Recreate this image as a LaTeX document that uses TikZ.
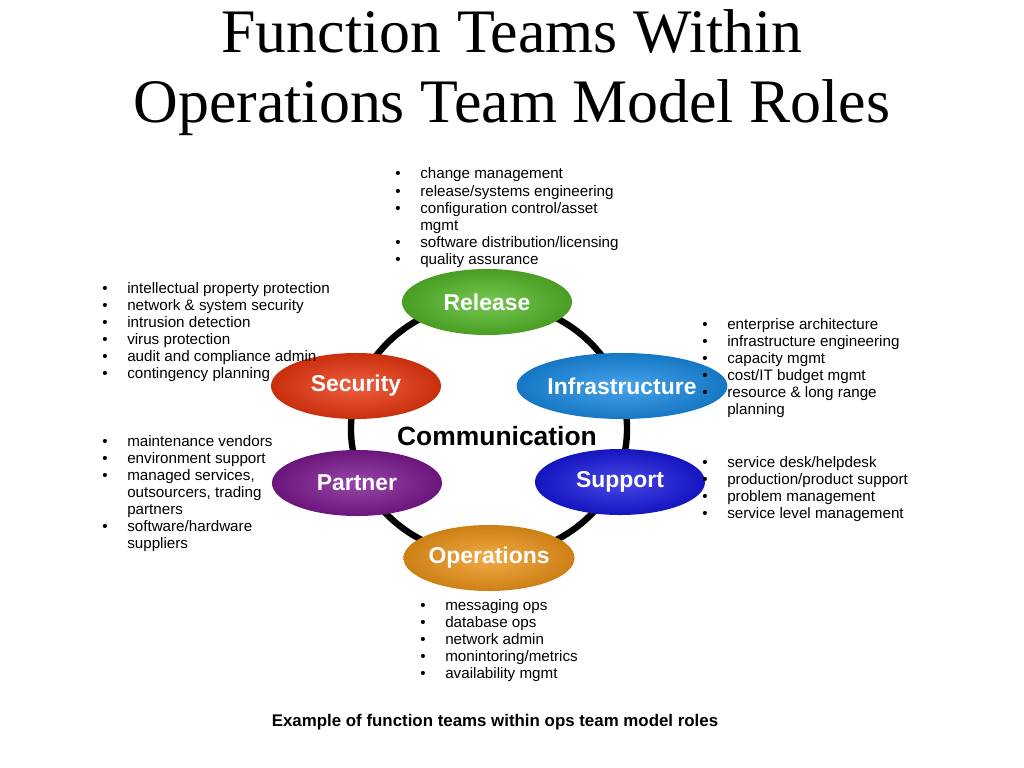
\documentclass[tikz,border=0pt]{standalone}
\usepackage{fontspec}
\setmainfont{Liberation Sans}
\newfontfamily\titlefont{Liberation Serif}
\usepackage{tikz}
\usetikzlibrary{shapes.geometric}
\usepackage{xcolor}

\definecolor{relgreen}{RGB}{85,185,40}
\definecolor{secred}{RGB}{235,55,15}
\definecolor{infblue}{RGB}{25,140,230}
\definecolor{parpurple}{RGB}{125,25,145}
\definecolor{supblue}{RGB}{25,25,225}
\definecolor{opsorange}{RGB}{240,150,25}

\newcommand{\itemfont}{\fontsize{10.8}{12.1}\selectfont}
\newcommand{\bul}{\textbullet\hspace{14pt}}

\begin{document}
\begin{tikzpicture}[x=0.025cm,y=-0.025cm,
  team/.style={ellipse,minimum width=4.25cm,minimum height=1.65cm,inner sep=0pt,
    inner color=#1!80!white,outer color=#1!85!black,
    text=white,font=\fontsize{16.3}{18}\selectfont\bfseries},
  items/.style={anchor=base west,inner sep=0pt,font=\itemfont},
  ring/.style={line width=0.16cm,black}]
  \useasboundingbox (0,0) rectangle (1024,768);

  % title
  \node[anchor=base,align=center,font=\titlefont\fontsize{44}{49.8}\selectfont] (title) at (512,123)
    {Function Teams Within\\Operations Team Model Roles};

  % ring
  \coordinate (hub) at (489,429);
  \draw[ring] (hub) ellipse [x radius=3.45cm,y radius=3.175cm];

  % teams
  \node[team=relgreen]  (release)  at (487,302) {Release};
  \node[team=secred]    (security) at (356,386) {Security};
  \node[team=infblue]   (infra)    at (622,386) {Infrastructure};
  \node[team=parpurple] (partner)  at (357,483) {Partner};
  \node[team=supblue]   (support)  at (620,482) {Support};
  \node[team=opsorange] (ops)      at (489,558) {Operations};

  \node[font=\fontsize{18.8}{20}\selectfont\bfseries] (comm) at (497,436) {Communication};

  % lists
  \node[items] (relItems) at (395,179) {\begin{tabular}[t]{@{}l@{}}
    \bul change management\\
    \bul release/systems engineering\\
    \bul configuration control/asset\\
    \phantom{\bul}mgmt\\
    \bul software distribution/licensing\\
    \bul quality assurance\end{tabular}};
  \node[items] (secItems) at (102,293) {\begin{tabular}[t]{@{}l@{}}
    \bul intellectual property protection\\
    \bul network \& system security\\
    \bul intrusion detection\\
    \bul virus protection\\
    \bul audit and compliance admin\\
    \bul contingency planning\end{tabular}};
  \node[items] (infItems) at (702,329) {\begin{tabular}[t]{@{}l@{}}
    \bul enterprise architecture\\
    \bul infrastructure engineering\\
    \bul capacity mgmt\\
    \bul cost/IT budget mgmt\\
    \bul resource \& long range\\
    \phantom{\bul}planning\end{tabular}};
  \node[items] (parItems) at (102,446) {\begin{tabular}[t]{@{}l@{}}
    \bul maintenance vendors\\
    \bul environment support\\
    \bul managed services,\\
    \phantom{\bul}outsourcers, trading\\
    \phantom{\bul}partners\\
    \bul software/hardware\\
    \phantom{\bul}suppliers\end{tabular}};
  \node[items] (supItems) at (702,467) {\begin{tabular}[t]{@{}l@{}}
    \bul service desk/helpdesk\\
    \bul production/product support\\
    \bul problem management\\
    \bul service level management\end{tabular}};
  \node[items] (opsItems) at (420,610) {\begin{tabular}[t]{@{}l@{}}
    \bul messaging ops\\
    \bul database ops\\
    \bul network admin\\
    \bul monintoring/metrics\\
    \bul availability mgmt\end{tabular}};

  % caption
  \node[anchor=base,font=\fontsize{12}{14}\selectfont\bfseries] (caption) at (495,726)
    {Example of function teams within ops team model roles};
\end{tikzpicture}
\end{document}
